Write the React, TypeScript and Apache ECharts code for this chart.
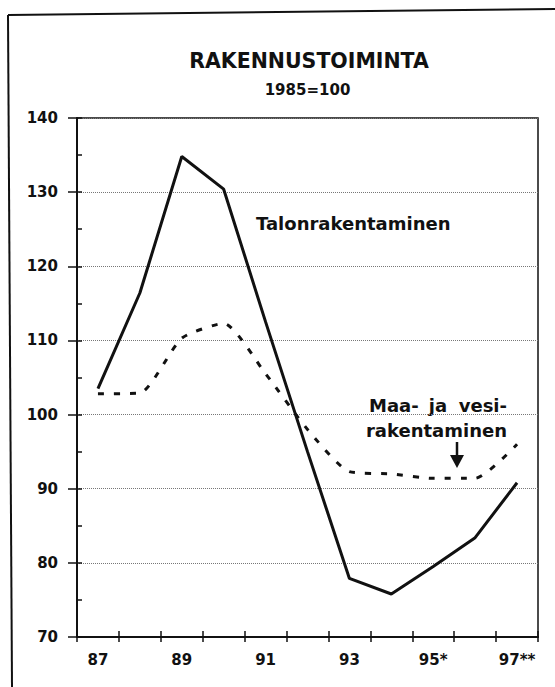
import React, { useEffect, useRef } from "react";
import * as echarts from "echarts";

const categories = ["87", "88", "89", "90", "91", "92", "93", "94", "95*", "96", "97**"];
const talonrakentaminen = [103.5, 116.4, 134.8, 130.4, 112.5, 95.0, 77.9, 75.8, 79.5, 83.4, 90.8];
const maaJaVesirakentaminen = [102.8, 102.9, 110.3, 112.3, 105.5, 98.0, 92.3, 92.0, 91.4, 91.4, 96.0];
const yMin = 70;
const yMax = 140;
const yMajor = 10;
const yMinor = 5;

const titleText = "RAKENNUSTOIMINTA";
const subtitleText = "1985=100";
const labelTalo = "Talonrakentaminen";
const labelMaa1 = ["Maa-", "ja", "vesi-"];
const labelMaa2 = "rakentaminen";

const FONT = "'DejaVu Sans', sans-serif";
const INK = "#111";

export default function App() {
  const ref = useRef<HTMLDivElement>(null);
  useEffect(() => {
    if (!ref.current) return;
    const chart = echarts.init(ref.current, undefined, { renderer: "svg" });
    const textStyle = (size: number) => ({
      fontFamily: FONT,
      fontWeight: "bold" as const,
      fontSize: size,
      fill: INK,
    });
    chart.setOption({
      animation: false,
      backgroundColor: "#fff",
      grid: {
        left: 77,
        right: 17,
        top: 118,
        bottom: 50,
        show: true,
        borderColor: INK,
        borderWidth: 1.5,
        backgroundColor: "transparent",
      },
      xAxis: [
        {
          type: "category",
          data: categories,
          position: "bottom",
          boundaryGap: true,
          axisLine: { show: true, lineStyle: { color: INK, width: 2 } },
          axisTick: { show: true, inside: false, length: 5, interval: 0, lineStyle: { color: INK, width: 1.5 } },
          axisLabel: {
            show: true,
            interval: 1,
            margin: 15,
            color: INK,
            fontFamily: FONT,
            fontWeight: "bold",
            fontSize: 15,
          },
          splitLine: { show: false },
        },
        {
          type: "category",
          data: categories,
          position: "bottom",
          boundaryGap: true,
          axisLine: { show: false },
          axisTick: { show: true, inside: true, length: 6, interval: 0, lineStyle: { color: INK, width: 1.5 } },
          axisLabel: { show: false },
          splitLine: { show: false },
        },
      ],
      yAxis: [
        {
          type: "value",
          min: yMin,
          max: yMax,
          interval: yMajor,
          position: "left",
          axisLine: { show: true, lineStyle: { color: INK, width: 2 } },
          axisTick: { show: true, inside: false, length: 9, lineStyle: { color: INK, width: 1.5 } },
          axisLabel: {
            show: true,
            margin: 19,
            color: INK,
            fontFamily: FONT,
            fontWeight: "bold",
            fontSize: 15,
          },
          splitLine: { show: true, lineStyle: { color: "#777", type: "dotted", width: 1 } },
        },
        {
          type: "value",
          min: yMin,
          max: yMax,
          interval: yMinor,
          position: "left",
          axisLine: { show: false },
          axisTick: { show: true, inside: true, length: 5, lineStyle: { color: INK, width: 1.5 } },
          axisLabel: { show: false },
          splitLine: { show: false },
        },
      ],
      series: [
        {
          name: labelTalo,
          type: "line",
          xAxisIndex: 0,
          yAxisIndex: 0,
          data: talonrakentaminen,
          showSymbol: false,
          symbol: "none",
          lineStyle: { color: INK, width: 3, type: "solid" },
          z: 3,
        },
        {
          name: "Maa- ja vesirakentaminen",
          type: "line",
          xAxisIndex: 0,
          yAxisIndex: 0,
          data: maaJaVesirakentaminen,
          showSymbol: false,
          symbol: "none",
          smooth: 0.2,
          lineStyle: { color: INK, width: 3, type: [6, 10] },
          z: 3,
        },
      ],
      graphic: [
        { type: "line", shape: { x1: 8, y1: 15, x2: 555, y2: 9 }, style: { stroke: INK, lineWidth: 2 } },
        { type: "line", shape: { x1: 8, y1: 15, x2: 12, y2: 687 }, style: { stroke: INK, lineWidth: 2 } },
        {
          type: "text",
          x: 309,
          y: 61,
          style: { ...textStyle(20.5), text: titleText, textAlign: "center", textVerticalAlign: "middle" },
        },
        {
          type: "text",
          x: 307.5,
          y: 90,
          style: { ...textStyle(15), text: subtitleText, textAlign: "center", textVerticalAlign: "middle" },
        },
        {
          type: "text",
          x: 256,
          y: 223,
          style: { ...textStyle(18), text: labelTalo, textAlign: "left", textVerticalAlign: "middle" },
        },
        {
          type: "text",
          x: 369,
          y: 405,
          style: { ...textStyle(18), text: labelMaa1[0], textAlign: "left", textVerticalAlign: "middle" },
        },
        {
          type: "text",
          x: 438,
          y: 405,
          style: { ...textStyle(18), text: labelMaa1[1], textAlign: "center", textVerticalAlign: "middle" },
        },
        {
          type: "text",
          x: 507,
          y: 405,
          style: { ...textStyle(18), text: labelMaa1[2], textAlign: "right", textVerticalAlign: "middle" },
        },
        {
          type: "text",
          x: 507,
          y: 430,
          style: { ...textStyle(18), text: labelMaa2, textAlign: "right", textVerticalAlign: "middle" },
        },
        { type: "line", shape: { x1: 457, y1: 442, x2: 457, y2: 457 }, style: { stroke: INK, lineWidth: 2.5 } },
        { type: "polygon", shape: { points: [[450, 455], [464, 455], [457, 468]] }, style: { fill: INK } },
      ],
    });
    return () => chart.dispose();
  }, []);
  return (
    <div
      ref={ref}
      style={{ position: "fixed", left: 0, top: 0, width: 555, height: 687, background: "#fff" }}
    />
  );
}
